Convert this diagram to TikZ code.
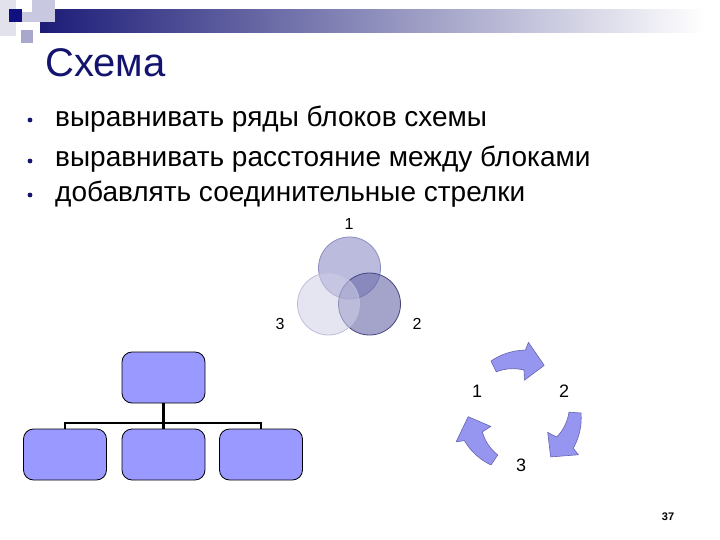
\documentclass[tikz,border=0pt]{standalone}
\usepackage{fontspec}
\setmainfont{Liberation Sans}
\definecolor{navy}{RGB}{20,20,110}
\definecolor{darksq}{RGB}{16,16,128}
\definecolor{barleft}{RGB}{28,28,120}
\definecolor{barmid}{RGB}{164,164,196}
\definecolor{lightsq}{RGB}{200,200,224}
\definecolor{palesq}{RGB}{226,226,236}
\definecolor{midsq}{RGB}{168,168,204}
\definecolor{boxblue}{RGB}{153,153,255}
\definecolor{arrowfill}{RGB}{150,150,240}
\definecolor{arrowedge}{RGB}{100,100,175}
\definecolor{vOneF}{RGB}{176,176,216}
\definecolor{vOneD}{RGB}{140,140,190}
\definecolor{vTwoF}{RGB}{104,104,168}
\definecolor{vTwoD}{RGB}{70,70,130}
\definecolor{vThrF}{RGB}{208,208,232}
\definecolor{vThrD}{RGB}{190,190,220}
\newcommand\cycarrow[1]{%
  \filldraw[fill=arrowfill, draw=arrowedge, line width=0.6pt, line join=round]
   ({521+60*cos(#1-120)},{413+60*sin(#1-120)})
   -- plot[domain=-120:-86, samples=16, variable=\t]
      ({521+(60+3*(\t+120)/34)*cos(#1+\t)},{413+(60+3*(\t+120)/34)*sin(#1+\t)})
   -- ({521+71*cos(#1-84)},{413+71*sin(#1-84)})
   -- ({521+53*cos(#1-64)},{413+53*sin(#1-64)})
   -- ({521+33*cos(#1-84)},{413+33*sin(#1-84)})
   -- ({521+43*cos(#1-86)},{413+43*sin(#1-86)})
   -- plot[domain=-86:-121, samples=16, variable=\t]
      ({521+(48-5*(\t+121)/35)*cos(#1+\t)},{413+(48-5*(\t+121)/35)*sin(#1+\t)})
   -- cycle;}
\tikzset{
  bullettext/.style={anchor=base west, inner sep=0pt, font=\fontsize{28}{32}\selectfont},
  orgbox/.style={draw=black, line width=0.8pt, fill=boxblue, rounded corners=10pt,
                 minimum width=83pt, minimum height=51pt, inner sep=0pt},
  numlbl/.style={inner sep=0pt, font=\fontsize{16}{18}\selectfont},
  cyclbl/.style={inner sep=0pt, font=\fontsize{18}{20}\selectfont},
  venn/.style={circle, inner sep=0pt, minimum size=62pt, line width=0.8pt}
}
\begin{document}
\begin{tikzpicture}[x=1pt,y=-1pt]
\useasboundingbox (0,0) rectangle (720,540);
\fill[white] (0,0) rectangle (720,540);
% header decoration
\shade[left color=barleft, middle color=barmid, right color=white, shading angle=90]
  (40,10) rectangle (705,33);
\fill[palesq] (0,0) rectangle (16,36);
\fill[lightsq] (32,0) rectangle (55,22);
\fill[lightsq] (22,12) rectangle (32,22);
\fill[midsq] (21,30) rectangle (33,43);
\fill[darksq] (9,9) rectangle (22,22);
% title
\node[anchor=base west, inner sep=0pt, text=navy, font=\fontsize{40}{44}\selectfont]
  (title) at (45,77) {Схема};
% bullets
\fill[navy] (30,120) circle (2.4);
\fill[navy] (30,161) circle (2.4);
\fill[navy] (30,195) circle (2.4);
\node[bullettext] (l1) at (55,127) {выравнивать ряды блоков схемы};
\node[bullettext] (l2) at (55,167) {выравнивать расстояние между блоками};
\node[bullettext] (l3) at (55,202) {добавлять соединительные стрелки};
% venn
\node[venn, fill=vOneF, fill opacity=0.85, draw=vOneD] (v1) at (349.5,268) {};
\node[venn, fill=vTwoF, fill opacity=0.6, draw=vTwoD] (v2) at (369.5,304) {};
\node[venn, fill=vThrF, fill opacity=0.55, draw=vThrD] (v3) at (328.5,304) {};
\node[numlbl] (n1) at (349,224) {1};
\node[numlbl] (n2) at (417,324) {2};
\node[numlbl] (n3) at (280,324) {3};
% org chart
\node[orgbox] (top) at (163.5,377.5) {};
\node[orgbox] (b1) at (65,454.5) {};
\node[orgbox] (b2) at (163.5,454.5) {};
\node[orgbox] (b3) at (261,454.5) {};
\coordinate (j) at (163.5,423);
\draw[line width=2.6pt] (top.south) -- (b2.north);
\draw[line width=1.7pt] (j) -| (b1.north);
\draw[line width=1.7pt] (j) -| (b3.north);
% cycle arrows
\cycarrow{0}
\cycarrow{120}
\cycarrow{240}
\node[cyclbl] (c1) at (477,391.5) {1};
\node[cyclbl] (c2) at (564,391.5) {2};
\node[cyclbl] (c3) at (521,465) {3};
% page number
\node[inner sep=0pt, font=\fontsize{11}{12}\selectfont\bfseries] (pg) at (668,517) {37};
\end{tikzpicture}
\end{document}
